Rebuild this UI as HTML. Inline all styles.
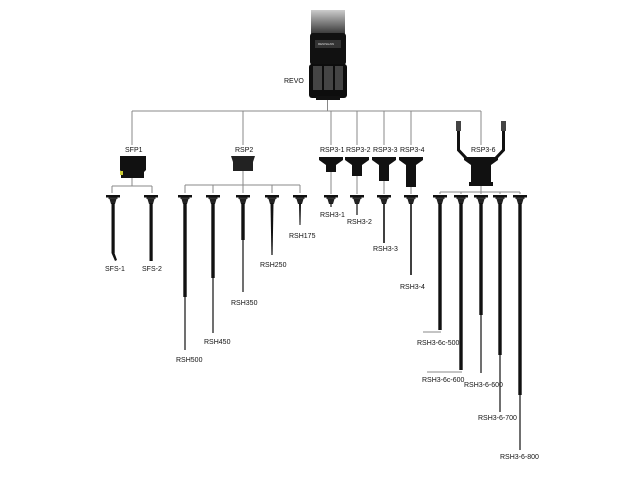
<!DOCTYPE html>
<html><head><meta charset="utf-8"><style>
html,body{margin:0;padding:0;background:#fff;width:640px;height:480px;overflow:hidden}
text{font-family:"Liberation Sans",sans-serif;font-size:7px;fill:#111}
</style></head><body>
<svg width="640" height="480" viewBox="0 0 640 480">
<defs>
<linearGradient id="g" x1="0" y1="0" x2="0" y2="1"><stop offset="0" stop-color="#ccc"/><stop offset="1" stop-color="#111"/></linearGradient>
<g id="hd"><rect x="-7" y="0" width="14" height="2.5" fill="#111"/><rect x="-4.5" y="2.5" width="9" height="1.5" fill="#333"/><polygon points="-3.5,4 3.5,4 2,9 -2,9" fill="#222"/></g>
</defs>
<!-- REVO -->
<rect x="311" y="10" width="34" height="30" fill="url(#g)"/>
<rect x="310" y="33" width="36" height="32" rx="3" fill="#111"/>
<rect x="315" y="40" width="26" height="8" fill="#333"/>
<text x="318" y="45" style="font-size:3px;fill:#ddd">RENISHAW</text>
<rect x="309" y="64" width="38" height="34" rx="3" fill="#0d0d0d"/>
<rect x="313" y="66" width="9" height="24" fill="#444"/><rect x="324" y="66" width="9" height="24" fill="#444"/><rect x="335" y="66" width="8" height="24" fill="#444"/>
<rect x="316" y="96" width="24" height="4" fill="#111"/>
<text x="284" y="83">REVO</text>
<!-- connectors -->
<g stroke="#888" stroke-width="1" fill="none">
<path d="M327.5 100V111M132 111H481M132 111V145M243 111V145M331 111V145M357 111V145M384 111V145M411 111V145M481 111V145"/>
<path d="M132 178V186M112 186H152M112 186V193M152 186V193"/>
<path d="M243 170V185M185 185H300M185 185V193M213 185V193M243 185V193M272 185V193M300 185V193"/>
<path d="M331 172V194M357 176V194M384 181V194M411 187V194"/>
<path d="M481 186V192M440 192H520M440 192V194M461 192V194M481 192V194M500 192V194M520 192V194"/>
<path d="M423 332H441M427 372H462"/>
</g>
<!-- labels top -->
<text x="125" y="152">SFP1</text>
<text x="235" y="152">RSP2</text>
<text x="320" y="152">RSP3-1</text>
<text x="346" y="152">RSP3-2</text>
<text x="373" y="152">RSP3-3</text>
<text x="400" y="152">RSP3-4</text>
<text x="471" y="152">RSP3-6</text>
<!-- probes -->
<polygon points="120,156 146,156 146,170 144,172 144,178 121,178 121,172 120,170" fill="#111"/>
<rect x="120" y="171" width="3" height="4" fill="#cc3"/>
<polygon points="231,156 255,156 253,162 253,171 233,171 233,162" fill="#222"/>
<g fill="#111">
<polygon points="319,157 343,157 343,160 336,165 336,172 326,172 326,165 319,160"/>
<polygon points="345,157 369,157 369,160 362,165 362,176 352,176 352,165 345,160"/>
<polygon points="372,157 396,157 396,160 389,165 389,181 379,181 379,165 372,160"/>
<polygon points="399,157 423,157 423,160 416,165 416,187 406,187 406,165 399,160"/>
<rect x="456" y="121" width="5" height="10" fill="#444"/><rect x="501" y="121" width="5" height="10" fill="#444"/>
<path d="M458.5 131V150L466 158M503.5 131V150L496 158" stroke="#111" stroke-width="3" fill="none"/>
<polygon points="464,157 498,157 498,160 491,165 491,182 471,182 471,165 464,160"/>
<rect x="469" y="182" width="24" height="4"/>
</g>
<!-- styli -->
<g fill="#111">
<use href="#hd" x="113" y="195"/><rect x="111.5" y="203" width="3.2" height="50"/><polygon points="111.5,253 114.5,253 117,260 115,261"/>
<use href="#hd" x="151" y="195"/><rect x="149.5" y="203" width="3.2" height="58"/>
<use href="#hd" x="185" y="195"/><rect x="183.3" y="203" width="3.4" height="94"/><rect x="184.4" y="297" width="1.2" height="53"/>
<use href="#hd" x="213" y="195"/><rect x="211.3" y="203" width="3.4" height="75"/><rect x="212.4" y="278" width="1.2" height="55"/>
<use href="#hd" x="243" y="195"/><rect x="241.3" y="203" width="3.4" height="37"/><rect x="242.4" y="240" width="1.2" height="52"/>
<use href="#hd" x="272" y="195"/><polygon points="270.5,203 273.5,203 272.6,255 271.4,255"/>
<use href="#hd" x="300" y="195"/><polygon points="299,203 301,203 300.5,225 299.5,225"/>
<use href="#hd" x="331" y="195"/><rect x="330.4" y="203" width="1.2" height="4"/>
<use href="#hd" x="357" y="195"/><rect x="356.4" y="203" width="1.2" height="12"/>
<use href="#hd" x="384" y="195"/><rect x="383.2" y="203" width="1.6" height="40"/>
<use href="#hd" x="411" y="195"/><rect x="410.2" y="203" width="1.6" height="72"/>
<use href="#hd" x="440" y="195"/><rect x="438.3" y="203" width="3.4" height="127"/>
<use href="#hd" x="461" y="195"/><rect x="459.3" y="203" width="3.4" height="167"/>
<use href="#hd" x="481" y="195"/><rect x="479.3" y="203" width="3.4" height="112"/><rect x="480.4" y="315" width="1.2" height="58"/>
<use href="#hd" x="500" y="195"/><rect x="498.3" y="203" width="3.4" height="152"/><rect x="499.4" y="355" width="1.2" height="57"/>
<use href="#hd" x="520" y="195"/><rect x="518.3" y="203" width="3.4" height="192"/><rect x="519.4" y="395" width="1.2" height="55"/>
</g>
<!-- bottom labels -->
<text x="105" y="271">SFS-1</text>
<text x="142" y="271">SFS-2</text>
<text x="176" y="362">RSH500</text>
<text x="204" y="344">RSH450</text>
<text x="231" y="305">RSH350</text>
<text x="260" y="267">RSH250</text>
<text x="289" y="238">RSH175</text>
<text x="320" y="217">RSH3-1</text>
<text x="347" y="224">RSH3-2</text>
<text x="373" y="251">RSH3-3</text>
<text x="400" y="289">RSH3-4</text>
<text x="417" y="345">RSH3-6c-500</text>
<text x="422" y="382">RSH3-6c-600</text>
<text x="464" y="387">RSH3-6-600</text>
<text x="478" y="420">RSH3-6-700</text>
<text x="500" y="459">RSH3-6-800</text>
</svg>
</body></html>
